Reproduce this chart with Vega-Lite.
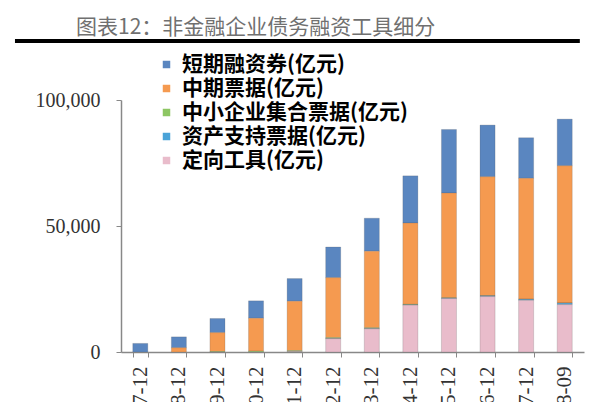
{
  "$schema": "https://vega.github.io/schema/vega-lite/v6.json",
  "width": 463,
  "height": 252,
  "autosize": {"type": "none"},
  "padding": {"left": 121, "top": 100, "right": 16, "bottom": 50},
  "background": "white",
  "config": {"view": {"stroke": null}},
  "title": {
    "text": "图表12：非金融企业债务融资工具细分",
    "font": "Noto Sans CJK SC",
    "fontSize": 21,
    "fontWeight": "normal",
    "color": "#707070",
    "anchor": "start",
    "dx": 63,
    "dy": 3
  },
  "data": {
    "values": [
      {"period": "2007-12", "type": "短期融资券", "value": 3400},
      {"period": "2008-12", "type": "短期融资券", "value": 4300},
      {"period": "2008-12", "type": "中期票据", "value": 1700},
      {"period": "2009-12", "type": "短期融资券", "value": 5600},
      {"period": "2009-12", "type": "中期票据", "value": 7500},
      {"period": "2009-12", "type": "中小企业集合票据", "value": 200},
      {"period": "2010-12", "type": "短期融资券", "value": 6900},
      {"period": "2010-12", "type": "中期票据", "value": 13100},
      {"period": "2010-12", "type": "中小企业集合票据", "value": 300},
      {"period": "2011-12", "type": "短期融资券", "value": 9000},
      {"period": "2011-12", "type": "中期票据", "value": 19600},
      {"period": "2011-12", "type": "中小企业集合票据", "value": 350},
      {"period": "2011-12", "type": "定向工具", "value": 200},
      {"period": "2012-12", "type": "短期融资券", "value": 12150},
      {"period": "2012-12", "type": "中期票据", "value": 23800},
      {"period": "2012-12", "type": "中小企业集合票据", "value": 350},
      {"period": "2012-12", "type": "资产支持票据", "value": 60},
      {"period": "2012-12", "type": "定向工具", "value": 5300},
      {"period": "2013-12", "type": "短期融资券", "value": 13100},
      {"period": "2013-12", "type": "中期票据", "value": 30400},
      {"period": "2013-12", "type": "中小企业集合票据", "value": 300},
      {"period": "2013-12", "type": "资产支持票据", "value": 100},
      {"period": "2013-12", "type": "定向工具", "value": 9200},
      {"period": "2014-12", "type": "短期融资券", "value": 18700},
      {"period": "2014-12", "type": "中期票据", "value": 32300},
      {"period": "2014-12", "type": "中小企业集合票据", "value": 200},
      {"period": "2014-12", "type": "资产支持票据", "value": 100},
      {"period": "2014-12", "type": "定向工具", "value": 18600},
      {"period": "2015-12", "type": "短期融资券", "value": 25200},
      {"period": "2015-12", "type": "中期票据", "value": 41600},
      {"period": "2015-12", "type": "中小企业集合票据", "value": 100},
      {"period": "2015-12", "type": "资产支持票据", "value": 200},
      {"period": "2015-12", "type": "定向工具", "value": 21200},
      {"period": "2016-12", "type": "短期融资券", "value": 20500},
      {"period": "2016-12", "type": "中期票据", "value": 47200},
      {"period": "2016-12", "type": "中小企业集合票据", "value": 50},
      {"period": "2016-12", "type": "资产支持票据", "value": 300},
      {"period": "2016-12", "type": "定向工具", "value": 22000},
      {"period": "2017-12", "type": "短期融资券", "value": 16100},
      {"period": "2017-12", "type": "中期票据", "value": 48000},
      {"period": "2017-12", "type": "中小企业集合票据", "value": 20},
      {"period": "2017-12", "type": "资产支持票据", "value": 400},
      {"period": "2017-12", "type": "定向工具", "value": 20500},
      {"period": "2018-09", "type": "短期融资券", "value": 18500},
      {"period": "2018-09", "type": "中期票据", "value": 54500},
      {"period": "2018-09", "type": "中小企业集合票据", "value": 10},
      {"period": "2018-09", "type": "资产支持票据", "value": 600},
      {"period": "2018-09", "type": "定向工具", "value": 18800}
    ]
  },
  "layer": [
    {
      "transform": [
        {"calculate": "indexof(['定向工具', '资产支持票据', '中小企业集合票据', '中期票据', '短期融资券'], datum.type)", "as": "stackRank"}
      ],
      "mark": {"type": "bar", "stroke": "#555555", "strokeWidth": 0.6, "strokeOpacity": 0.35},
      "encoding": {
        "x": {
          "field": "period",
          "type": "ordinal",
          "scale": {"paddingInner": 0.61, "paddingOuter": 0.305},
          "axis": {
            "title": null,
            "labelAngle": -90,
            "labelFont": "Liberation Serif",
            "labelFontSize": 21,
            "labelColor": "#333333",
            "tickBand": "extent",
            "tickSize": 5,
            "tickColor": "#888888",
            "domainColor": "#888888",
            "domainWidth": 1.5,
            "labelPadding": 9
          }
        },
        "y": {
          "field": "value",
          "type": "quantitative",
          "stack": "zero",
          "scale": {"domain": [0, 100000], "nice": false},
          "axis": {
            "title": null,
            "values": [0, 50000, 100000],
            "format": ",.0f",
            "grid": false,
            "labelFont": "Liberation Serif",
            "labelFontSize": 20,
            "labelColor": "#333333",
            "tickSize": 5,
            "labelPadding": 16,
            "tickColor": "#888888",
            "domainColor": "#888888",
            "domainWidth": 1.5
          }
        },
        "order": {"field": "stackRank", "type": "quantitative", "sort": "ascending"},
        "color": {
          "field": "type",
          "type": "nominal",
          "sort": ["短期融资券", "中期票据", "中小企业集合票据", "资产支持票据", "定向工具"],
          "scale": {
            "domain": ["短期融资券", "中期票据", "中小企业集合票据", "资产支持票据", "定向工具"],
            "range": ["#5A86C0", "#F59A50", "#8DC663", "#4AA3D8", "#E9BCCB"]
          },
          "legend": {
            "orient": "none",
            "legendX": 35,
            "legendY": -46,
            "title": null,
            "labelExpr": "datum.label + '(亿元)'",
            "labelFont": "Noto Sans CJK SC",
            "labelFontSize": 21,
            "labelFontWeight": "bold",
            "labelColor": "#000000",
            "labelLimit": 400,
            "symbolType": "square",
            "symbolSize": 56,
            "symbolStrokeWidth": 0,
            "rowPadding": 2,
            "labelOffset": 5,
            "padding": 0
          }
        }
      }
    },
    {
      "data": {"values": [{}]},
      "mark": {"type": "rule", "color": "#000000", "strokeWidth": 4},
      "encoding": {
        "x": {"datum": -0.229, "type": "quantitative", "scale": {"domain": [0, 1]}, "axis": null},
        "x2": {"datum": 0.991},
        "y": {"datum": 123400, "type": "quantitative"}
      }
    }
  ],
  "resolve": {"scale": {"x": "independent"}, "axis": {"x": "independent"}}
}
